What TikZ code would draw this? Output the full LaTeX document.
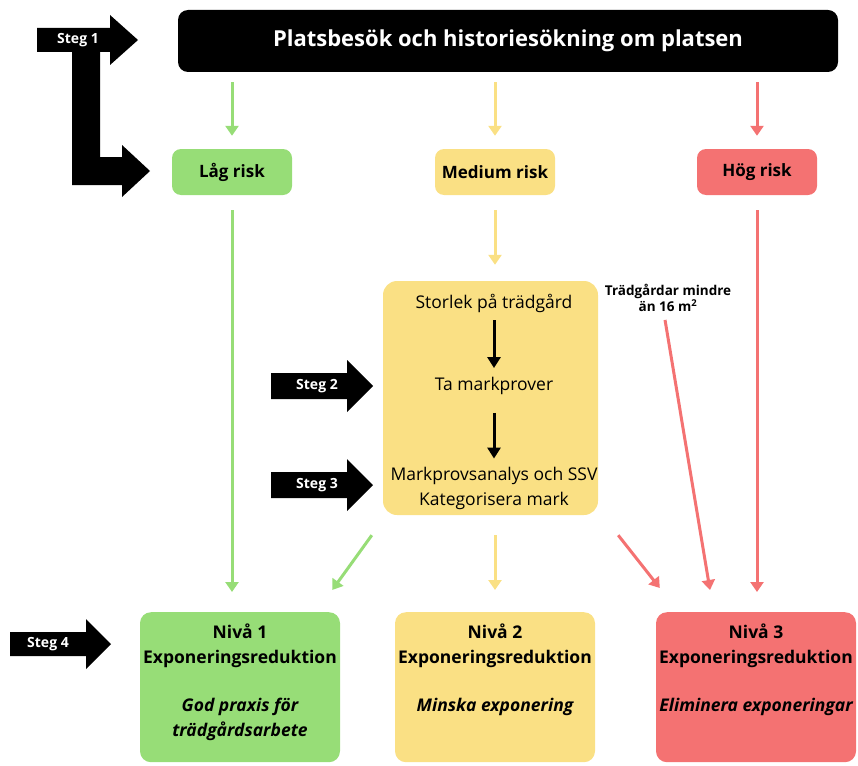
\documentclass[tikz,border=0pt]{standalone}
\usepackage{fontspec}
\setmainfont{Open Sans}
\usetikzlibrary{arrows.meta,positioning}

\definecolor{lowgreen}{HTML}{97DD77}
\definecolor{medyellow}{HTML}{FAE084}
\definecolor{highred}{HTML}{F47272}

\tikzset{
  riskbox/.style={rounded corners=9pt, minimum width=120pt, minimum height=46pt,
    inner sep=0pt, font=\fontsize{17}{20}\selectfont\bfseries},
  levelbox/.style={rounded corners=11pt, minimum width=200pt, minimum height=150pt,
    inner sep=0pt, anchor=north},
  leveltext/.style={align=center, inner sep=0pt, font=\fontsize{17.5}{25}\selectfont\bfseries},
  flow/.style={line width=3pt, -{Triangle[width=13pt,length=10pt]}},
  sampletext/.style={align=center, inner sep=0pt, font=\fontsize{17.5}{25}\selectfont},
  steglabel/.style={text=white, inner sep=0pt, font=\fontsize{14}{16}\selectfont\bfseries},
}

\begin{document}
\begin{tikzpicture}[x=1pt, y=-1pt]

\useasboundingbox (0,0) rectangle (858,765);

% top row
\node [fill=black, rounded corners=10pt, minimum width=660pt, minimum height=62pt,
  text=white, font=\fontsize{22}{26}\selectfont\bfseries] (site) at (508,41)
  {Platsbesök och historiesökning om platsen};

\node [riskbox, fill=lowgreen] (low) at (232,172) {Låg risk};
\node [riskbox, fill=medyellow] (med) at (495,172) {Medium risk};
\node [riskbox, fill=highred] (high) at (757,172) {Hög risk};

% sampling box
\node [fill=medyellow, rounded corners=14pt, minimum width=215pt, minimum height=234pt] (samp) at (490.5,398) {};
\node [sampletext] (size) at (494,303) {Storlek på trädgård};
\node [sampletext] (probe) at (494,386) {Ta markprover};
\node [sampletext] (anal) at (494,488) {Markprovsanalys och SSV\\Kategorisera mark};

\node [align=center, inner sep=0pt, font=\fontsize{13.5}{16}\selectfont\bfseries] (note) at (668,298)
  {Trädgårdar mindre\\än 16 m\textsuperscript{2}};

% levels
\node [levelbox, fill=lowgreen] (niv1) at (240,612) {};
\node [levelbox, fill=medyellow] (niv2) at (495,612) {};
\node [levelbox, fill=highred] (niv3) at (756,612) {};

\node [leveltext, below=12pt of niv1.north] (t1) {Nivå 1\\Exponeringsreduktion\\[23pt]\itshape God praxis för\\\itshape trädgårdsarbete};
\node [leveltext, below=12pt of niv2.north] (t2) {Nivå 2\\Exponeringsreduktion\\[23pt]\itshape Minska exponering};
\node [leveltext, below=12pt of niv3.north] (t3) {Nivå 3\\Exponeringsreduktion\\[23pt]\itshape Eliminera exponeringar};

% connectors
\draw [flow, lowgreen, shorten <=10pt, shorten >=13pt] (site.south -| low) -- (low.north);
\draw [flow, medyellow, shorten <=10pt, shorten >=13pt] (site.south -| med) -- (med.north);
\draw [flow, highred, shorten <=10pt, shorten >=13pt] (site.south -| high) -- (high.north);

\draw [flow, lowgreen, shorten <=15pt, shorten >=20pt] (low.south) -- (low.south |- niv1.north);
\draw [flow, medyellow, shorten <=15pt, shorten >=16pt] (med.south) -- (med.south |- samp.north);
\draw [flow, highred, shorten <=15pt, shorten >=20pt] (high.south) -- (high.south |- niv3.north);

\draw [line width=3pt, -{Triangle[width=13pt,length=11pt]}, shorten <=8pt, shorten >=9pt] (size.south) -- (probe.north);
\draw [line width=3pt, -{Triangle[width=13pt,length=11pt]}, shorten <=18pt, shorten >=8pt] (probe.south) -- (anal.north);

\draw [flow, lowgreen] ([shift={(-11,20)}]samp.south west) -- ([shift={(-8,-22)}]niv1.north east);
\draw [flow, medyellow, shorten <=20pt, shorten >=22pt] (med.south |- samp.south) -- (med.south |- niv2.north);
\draw [flow, highred] ([shift={(20,20)}]samp.south east) -- ([shift={(4,-24)}]niv3.north west);
\draw [flow, highred] ([shift={(-3,8)}]note.south) -- ([shift={(-46,-22)}]niv3.north);

% step arrows
\fill [black] (37,28) -- (110,28) -- (110,15) -- (138,40) -- (110,65) -- (110,52) -- (37,52) -- cycle;
\fill [black] (72,45) -- (100,45) -- (100,157) -- (122,157) -- (122,145) -- (150,171) -- (122,197) -- (122,185) -- (72,185) -- cycle;
\fill [black] (271,373) -- (347,373) -- (347,360) -- (373,386) -- (347,412) -- (347,399) -- (271,399) -- cycle;
\fill [black] (271,472) -- (347,472) -- (347,459) -- (373,485) -- (347,511) -- (347,498) -- (271,498) -- cycle;
\fill [black] (10,632) -- (86,632) -- (86,619) -- (111,644) -- (86,669) -- (86,656) -- (10,656) -- cycle;

\node [steglabel] (s1) at (78,40) {Steg 1};
\node [steglabel] (s2) at (317,386) {Steg 2};
\node [steglabel] (s3) at (317,485) {Steg 3};
\node [steglabel] (s4) at (48,644) {Steg 4};

\end{tikzpicture}
\end{document}
